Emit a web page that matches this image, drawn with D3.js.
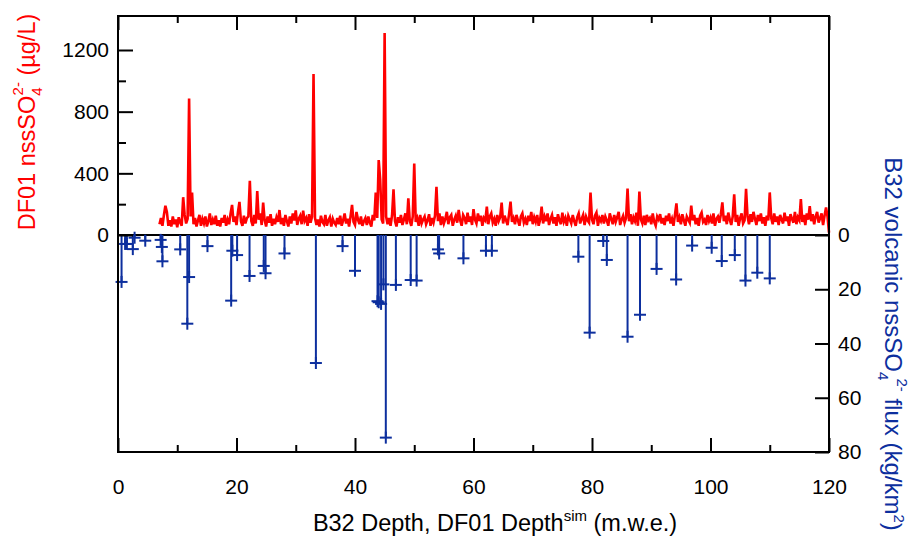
<!DOCTYPE html>
<html>
<head>
<meta charset="utf-8">
<script src="https://cdn.jsdelivr.net/npm/d3@7"></script>
<style>
body { margin: 0; background: #fff; }
text { font-family: "Liberation Sans", Arial, Helvetica, sans-serif; }
</style>
</head>
<body>
<div id="chart"></div>
<script>
// DF01 nssSO4 (ug/L), one value every 0.25 m starting at 7 m
var redStart = 7;
var redStep = 0.25;
var redValues = [
  70, 110, 60, 130, 190, 150, 60, 95, 55, 120, 70, 100, 50, 115, 80, 60, 245, 130, 75, 105,
  885, 120, 275, 70, 110, 55, 95, 130, 60, 105, 75, 120, 55, 90, 140, 65, 100, 70, 125, 60,
  95, 55, 110, 80, 130, 60, 100, 70, 140, 195, 85, 120, 65, 150, 215, 90, 60, 125, 75, 110,
  120, 352, 90, 60, 130, 75, 285, 100, 140, 65, 210, 95, 55, 120, 80, 135, 60, 105, 70, 115,
  85, 162, 70, 110, 60, 130, 90, 55, 120, 75, 140, 95, 160, 65, 105, 125, 70, 158, 90, 110,
  60, 135, 80, 120, 1045, 110, 65, 100, 55, 125, 85, 70, 130, 60, 95, 115, 55, 105, 80, 65,
  110, 70, 125, 60, 95, 140, 75, 105, 55, 120, 195, 85, 65, 150, 100, 70, 120, 60, 90, 110,
  65, 120, 80, 55, 130, 95, 276, 110, 486, 361, 100, 75, 1310, 120, 70, 110, 60, 125, 296, 90,
  55, 115, 80, 130, 65, 100, 140, 70, 238, 90, 60, 120, 464, 85, 110, 60, 130, 75, 100, 120,
  70, 95, 135, 60, 110, 80, 125, 313, 90, 140, 65, 120, 75, 105, 150, 70, 115, 130, 60, 100,
  125, 80, 162, 95, 60, 130, 110, 70, 145, 85, 120, 65, 168, 100, 75, 140, 90, 125, 60, 110,
  95, 184, 70, 120, 140, 80, 105, 60, 130, 90, 115, 210, 75, 125, 95, 65, 135, 216, 85, 110,
  70, 130, 95, 60, 120, 140, 80, 105, 65, 125, 90, 150, 70, 115, 85, 130, 60, 100, 184, 75,
  120, 90, 140, 65, 105, 130, 75, 115, 60, 135, 95, 70, 145, 85, 110, 60, 125, 100, 75, 130,
  90, 60, 115, 140, 75, 105, 130, 65, 120, 95, 80, 276, 100, 70, 125, 145, 60, 110, 90, 130,
  75, 120, 95, 60, 140, 105, 70, 130, 85, 115, 150, 65, 100, 125, 80, 110, 302, 90, 135, 70,
  115, 90, 145, 60, 281, 100, 75, 125, 65, 130, 95, 110, 70, 140, 85, 60, 120, 100, 135, 75,
  110, 65, 125, 90, 140, 75, 105, 60, 130, 205, 85, 115, 70, 135, 95, 60, 120, 100, 80, 190,
  95, 130, 70, 110, 60, 125, 145, 85, 100, 65, 130, 90, 115, 75, 140, 60, 105, 120, 80, 135,
  212, 90, 125, 70, 145, 100, 65, 120, 264, 85, 130, 60, 110, 140, 75, 95, 300, 120, 70, 135,
  85, 150, 105, 65, 130, 90, 140, 75, 115, 60, 125, 95, 276, 110, 70, 140, 85, 120, 65, 130,
  100, 75, 145, 90, 120, 60, 135, 105, 80, 150, 70, 115, 95, 233, 85, 130, 65, 140, 100, 188,
  90, 135, 70, 120, 150, 80, 110, 140, 65, 125, 179, 120, 15
];

// B32 volcanic nssSO4 flux (kg/km2)
var blueDepth = [0.6, 1.2, 1.5, 2.5, 2.8, 4.6, 7.2, 7.4, 7.5, 10.5,
  11.7, 12.0, 15.1, 19.1, 19.3, 20.1, 22.2, 24.6, 24.9, 28.1,
  33.4, 37.9, 40.0, 43.8, 44.0, 44.4, 44.8, 45.2, 46.9, 49.4,
  50.4, 54.0, 54.2, 58.3, 62.1, 63.1, 77.7, 79.6, 81.9, 82.5,
  86.0, 88.1, 90.9, 94.2, 96.9, 100.2, 101.9, 104.1, 105.9, 107.9, 110.0];
var blueFlux = [17.3, 3.3, 3.3, 5.2, 1.0, 2.1, 1.8, 4.4, 9.7, 5.3,
  32.7, 15.5, 4.1, 24.2, 5.8, 7.4, 15.1, 11.4, 14.1, 6.8,
  47.2, 4.1, 13.2, 24.4, 24.8, 25.4, 18.2, 74.7, 18.4, 16.6,
  16.8, 5.3, 6.8, 8.6, 5.8, 5.8, 8.0, 36.0, 2.2, 9.2,
  37.5, 29.4, 12.5, 16.4, 3.9, 4.7, 9.6, 7.4, 16.8, 13.9, 16.0];

var xTicks = [0, 20, 40, 60, 80, 100, 120];
var xMinor = [10, 30, 50, 70, 90, 110];
var redTicks = [0, 400, 800, 1200];
var redMinor = [200, 600, 1000];
var blueTicks = [0, 20, 40, 60, 80];

var W = 914, H = 538;
var plotLeft = 118, plotRight = 829, plotTop = 16, plotBottom = 452, zeroY = 235;
var red = "#ff0000", blue = "#0d2f9e";

var svg = d3.select("#chart").append("svg")
  .attr("width", W).attr("height", H);

var x = d3.scaleLinear().domain([0, 120]).range([plotLeft, plotRight]);
var yRed = d3.scaleLinear().domain([0, 1200]).range([zeroY, 50]);
var yBlue = d3.scaleLinear().domain([0, 80]).range([zeroY, plotBottom]);

// red series
var redData = redValues.map(function(v, i) { return { d: redStart + i * redStep, v: v }; });
var line = d3.line()
  .x(function(p) { return x(p.d); })
  .y(function(p) { return yRed(p.v); });
svg.append("path")
  .datum(redData)
  .attr("d", line)
  .attr("fill", "none")
  .attr("stroke", red)
  .attr("stroke-width", 2.6)
  .attr("stroke-linejoin", "miter");

// zero line
svg.append("line")
  .attr("x1", plotLeft).attr("x2", plotRight)
  .attr("y1", zeroY).attr("y2", zeroY)
  .attr("stroke", "#000").attr("stroke-width", 2);

// blue stems with + markers
var blueData = blueDepth.map(function(d, i) { return { d: d, v: blueFlux[i] }; });
var stems = svg.append("g").attr("stroke", blue).attr("stroke-width", 2);
stems.selectAll(".stem").data(blueData).enter().append("line")
  .attr("x1", function(p) { return x(p.d); })
  .attr("x2", function(p) { return x(p.d); })
  .attr("y1", yBlue(0))
  .attr("y2", function(p) { return yBlue(p.v); });
stems.selectAll(".hbar").data(blueData).enter().append("line")
  .attr("x1", function(p) { return x(p.d) - 6; })
  .attr("x2", function(p) { return x(p.d) + 6; })
  .attr("y1", function(p) { return yBlue(p.v); })
  .attr("y2", function(p) { return yBlue(p.v); });
stems.selectAll(".vbar").data(blueData).enter().append("line")
  .attr("x1", function(p) { return x(p.d); })
  .attr("x2", function(p) { return x(p.d); })
  .attr("y1", function(p) { return yBlue(p.v) - 6; })
  .attr("y2", function(p) { return yBlue(p.v) + 6; });

// axes
function styleAxis(g) {
  g.select(".domain").remove();
  g.selectAll(".tick line").attr("stroke", "#000").attr("stroke-width", 2);
  g.selectAll(".tick text").attr("fill", "#000").style("font-size", "21px")
    .style("font-family", "'Liberation Sans', Arial, sans-serif");
}
var fmt = d3.format("d");

svg.append("g").attr("transform", "translate(0," + plotBottom + ")")
  .call(d3.axisBottom(x).tickValues(xTicks).tickSize(-14).tickPadding(27).tickFormat(fmt))
  .call(styleAxis);
svg.append("g").attr("transform", "translate(0," + plotBottom + ")")
  .call(d3.axisBottom(x).tickValues(xMinor).tickSize(-7).tickFormat(""))
  .call(styleAxis);
svg.append("g").attr("transform", "translate(0," + plotTop + ")")
  .call(d3.axisTop(x).tickValues(xTicks).tickSize(-14).tickFormat(""))
  .call(styleAxis);
svg.append("g").attr("transform", "translate(0," + plotTop + ")")
  .call(d3.axisTop(x).tickValues(xMinor).tickSize(-7).tickFormat(""))
  .call(styleAxis);

svg.append("g").attr("transform", "translate(" + plotLeft + ",0)")
  .call(d3.axisLeft(yRed).tickValues(redTicks).tickSize(-15).tickPadding(9).tickFormat(fmt))
  .call(styleAxis);
svg.append("g").attr("transform", "translate(" + plotLeft + ",0)")
  .call(d3.axisLeft(yRed).tickValues(redMinor).tickSize(-8).tickFormat(""))
  .call(styleAxis);

svg.append("g").attr("transform", "translate(" + plotRight + ",0)")
  .call(d3.axisRight(yBlue).tickValues(blueTicks).tickSize(-14).tickPadding(9).tickFormat(fmt))
  .call(styleAxis);

// frame
svg.append("rect")
  .attr("x", plotLeft).attr("y", plotTop)
  .attr("width", plotRight - plotLeft).attr("height", plotBottom - plotTop)
  .attr("fill", "none").attr("stroke", "#000").attr("stroke-width", 2);

// axis titles
var lt = svg.append("text")
  .attr("transform", "translate(35,122) rotate(-90)")
  .attr("text-anchor", "middle")
  .attr("fill", red).style("font-size", "23.5px");
lt.append("tspan").text("DF01 nssSO");
lt.append("tspan").attr("dy", 7).style("font-size", "15px").text("4");
lt.append("tspan").attr("dx", -8).attr("dy", -19).style("font-size", "15px").text("2-");
lt.append("tspan").attr("dy", 12).text(" (µg/L)");

var rt = svg.append("text")
  .attr("transform", "translate(885,344) rotate(90)")
  .attr("text-anchor", "middle")
  .attr("fill", blue).style("font-size", "24px");
rt.append("tspan").text("B32 volcanic nssSO");
rt.append("tspan").attr("dy", 7).style("font-size", "15px").text("4");
rt.append("tspan").attr("dx", -2).attr("dy", -19).style("font-size", "15px").text("2-");
rt.append("tspan").attr("dy", 12).text(" flux (kg/km");
rt.append("tspan").attr("dy", -9).style("font-size", "15px").text("2");
rt.append("tspan").attr("dy", 9).text(")");

var xt = svg.append("text")
  .attr("x", 495).attr("y", 531)
  .attr("text-anchor", "middle")
  .attr("fill", "#000").style("font-size", "23.5px");
xt.append("tspan").text("B32 Depth, DF01 Depth");
xt.append("tspan").attr("dy", -10).style("font-size", "15px").text("sim");
xt.append("tspan").attr("dy", 10).text(" (m.w.e.)");
</script>
</body>
</html>
